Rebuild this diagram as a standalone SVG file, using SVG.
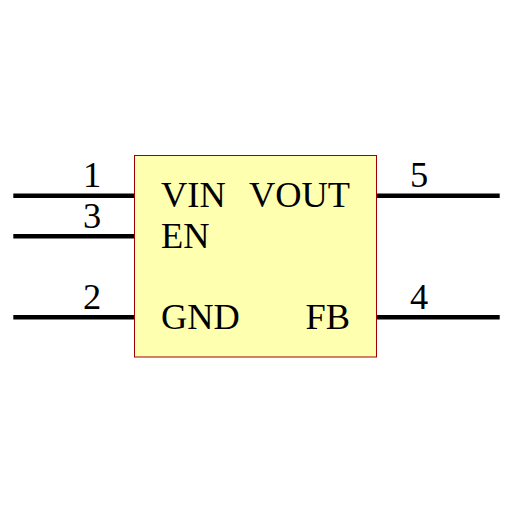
<svg xmlns="http://www.w3.org/2000/svg" width="512" height="512" viewBox="0 0 512 512">
<style>
.t{font-family:"Liberation Serif","Times New Roman",serif;font-size:36.4px;fill:#000}
.p{stroke:#000;stroke-width:4.4;fill:none}
.e{text-anchor:end}
.m{text-anchor:middle}
</style>
<rect width="512" height="512" fill="#fff"/>
<g id="connectors">
<line class="p" x1="13.300" y1="195.700" x2="135" y2="195.700"/>
<line class="p" x1="13.300" y1="236.200" x2="135" y2="236.200"/>
<line class="p" x1="13.300" y1="317.300" x2="135" y2="317.300"/>
<line class="p" x1="377" y1="195.700" x2="499.700" y2="195.700"/>
<line class="p" x1="377" y1="317.300" x2="499.700" y2="317.300"/>
</g>
<g id="body">
<rect x="134.500" y="155.500" width="242" height="201.500" fill="#ffffb0" stroke="#a00000" stroke-width="1"/>
<text class="t" x="161" y="207">VIN</text>
<text class="t" x="161" y="247.500">EN</text>
<text class="t" x="161" y="328.500">GND</text>
<text class="t e" x="350" y="207">VOUT</text>
<text class="t e" x="350" y="328.500">FB</text>
</g>
<g id="pin1"><text class="t m" x="92" y="187">1</text></g>
<g id="pin3"><text class="t m" x="92" y="228">3</text></g>
<g id="pin2"><text class="t m" x="92" y="309">2</text></g>
<g id="pin5"><text class="t m" x="419" y="187">5</text></g>
<g id="pin4"><text class="t m" x="419" y="309">4</text></g>
</svg>
